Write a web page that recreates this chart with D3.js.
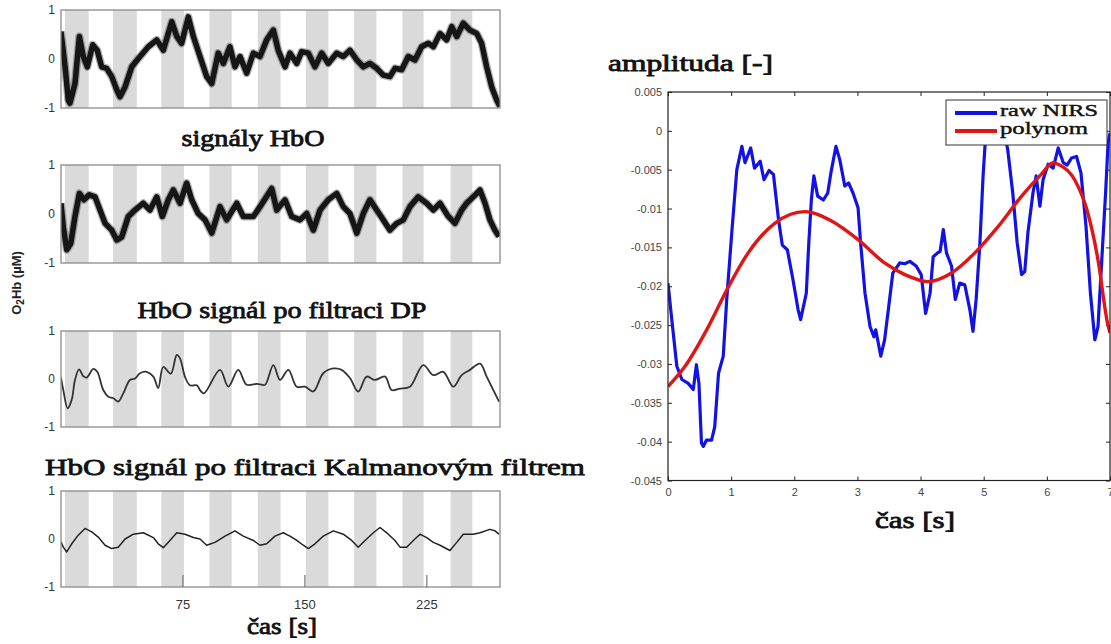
<!DOCTYPE html>
<html>
<head>
<meta charset="utf-8">
<script src="https://cdn.jsdelivr.net/npm/d3@7"></script>
<style>
  body { margin: 0; background: #fff; }
  svg { display: block; }
</style>
</head>
<body>
<svg id="chart" width="1111" height="644"></svg>
<script>
// ---- data ----
// stimulation blocks (s)
const bandStart = [2.4, 32, 61.7, 91.3, 121, 150.6, 180.3, 210, 239.6];
const bandEnd   = [17, 46.6, 75.6, 105, 135, 164.5, 194, 223, 253];
const hboTicks = [1, 0, -1];
const timeTicks = [75, 150, 225];

// [time s, O2Hb uM]
const hboRaw = [[0,0.56],[2.5,-0.16],[4.5,-0.84],[5.5,-0.9],[8.6,-0.5],[11.3,0.46],[13.7,0.05],[16.2,-0.16],[19.5,0.29],[22.3,0.18],[25,-0.16],[28.1,-0.19],[31.2,-0.36],[34.3,-0.63],[36.3,-0.77],[39.4,-0.57],[43.5,-0.16],[48.6,0.05],[53.7,0.25],[58.9,0.39],[62.9,0.18],[68.1,0.76],[71.2,0.46],[74.2,0.32],[78.3,0.86],[81.4,0.46],[85.5,0.05],[89.6,-0.36],[92.7,-0.5],[96.7,0.12],[99.8,-0.09],[103.9,0.25],[107,-0.16],[110.1,0.05],[114.2,-0.29],[118.3,0.12],[122.4,0.05],[126.5,0.39],[130.6,0.59],[133.6,0.18],[137.8,-0.16],[140.8,0.12],[145,-0.09],[148,0.15],[152.1,0.12],[156.2,-0.16],[160.3,0.12],[164.4,-0.09],[169.6,0.12],[173.6,0.05],[177.7,0.18],[181.9,-0.02],[185.9,-0.16],[190,-0.09],[194.2,-0.19],[198.2,-0.33],[202.3,-0.36],[205.4,-0.19],[209.5,-0.22],[213.6,0.05],[217.7,-0.02],[221.8,0.25],[225.9,0.32],[229,0.25],[233.1,0.52],[237.2,0.39],[240.3,0.66],[243.4,0.46],[247.4,0.73],[251.5,0.59],[255.7,0.52],[258.7,0.32],[261.8,-0.16],[264.9,-0.57],[268,-0.84],[270,-0.97]];

const hboSig = [[0,0.22],[1.4,-0.26],[3.5,-0.73],[6,-0.6],[8.6,-0.05],[11.3,0.42],[14.1,0.29],[17.4,0.39],[20.9,0.35],[24,0.08],[27.1,-0.19],[31.2,-0.33],[34.3,-0.53],[37.3,-0.47],[41.4,-0.05],[45.5,0.08],[50.6,0.22],[54.7,0.08],[58.9,0.35],[62.3,-0.05],[66,0.29],[69.1,0.49],[73.2,0.22],[77.3,0.63],[80.4,0.29],[84.4,0.01],[88.6,-0.12],[92.7,-0.39],[97.8,0.15],[101.9,-0.12],[108.1,0.22],[112.1,-0.05],[118.3,-0.05],[122.4,0.15],[129.6,0.52],[132.7,0.08],[137.8,0.29],[141.9,-0.05],[147,-0.12],[151.1,0.01],[155.2,-0.33],[159.3,0.08],[164.4,0.29],[169.6,0.42],[173.6,0.15],[177.7,0.01],[181.9,-0.39],[185.9,0.01],[190,0.29],[194.2,0.08],[198.2,-0.12],[202.3,-0.33],[206.5,-0.19],[210.5,-0.12],[214.6,0.15],[219.7,0.35],[224.9,0.22],[229,0.08],[233.1,0.22],[238.2,-0.05],[242.3,-0.19],[246.4,0.08],[249.5,0.22],[253.6,0.35],[257.7,0.49],[260.8,0.22],[263.8,-0.12],[266.9,-0.33],[269.4,-0.46]];

const hboDP = [[0,0.03],[1.4,-0.23],[4.1,-0.61],[6.6,-0.43],[8.6,-0.02],[11.1,0.2],[13.7,0.06],[15.8,0.03],[19.9,0.21],[22.3,0.15],[26,-0.23],[29.1,-0.37],[32.2,-0.4],[35.2,-0.47],[38.3,-0.3],[42.4,-0.02],[45.5,0.01],[48.6,0.12],[52.7,0.15],[56.8,0.05],[59.8,-0.19],[62.9,0.25],[67.5,0.11],[71.2,0.5],[73.2,0.43],[76.3,0.04],[79.3,-0.13],[83.5,-0.13],[85.5,-0.23],[87.9,-0.3],[97.8,0.19],[102.9,-0.16],[109,0.19],[114.2,-0.12],[120.4,-0.1],[122.4,-0.11],[125.5,-0.12],[130.6,0.29],[134.7,-0.02],[139.8,0.19],[145,-0.16],[150.1,-0.16],[155.2,-0.26],[161.3,0.12],[167.5,0.22],[172.6,0.19],[177.7,0.02],[182.8,-0.26],[188,0.05],[193.1,-0.02],[199.3,0.05],[203.4,-0.23],[208.5,-0.2],[214.6,-0.16],[222.8,0.29],[229,0.08],[235.1,0.15],[241.3,-0.16],[246.4,0.08],[251.5,0.19],[257.7,0.32],[261.8,0.05],[265.9,-0.23],[269.4,-0.47]];

const hboKalman = [[0,-0.06],[1.4,-0.17],[3.5,-0.27],[6.6,-0.1],[10.6,0.08],[14.8,0.22],[18.9,0.15],[22.9,0.04],[27.1,-0.13],[31.2,-0.2],[35.2,-0.17],[39.4,0],[44.5,0.1],[50.6,0.13],[56.8,0.03],[59.8,-0.1],[62.9,-0.18],[67,-0.03],[71.2,0.13],[76.3,0.1],[81.4,0.03],[85.5,0],[89.6,-0.13],[94.7,-0.07],[100.9,0.06],[107,0.17],[112.1,0.06],[118.3,-0.03],[122.4,-0.13],[126.5,-0.1],[131.6,0.06],[136.7,0.13],[140.8,0.06],[145,-0.03],[149,-0.13],[152.1,-0.2],[156.2,-0.1],[161.3,0.06],[167.5,0.17],[173.6,0.1],[178.8,-0.03],[182.8,-0.17],[187,-0.03],[192.1,0.13],[196.2,0.24],[201.3,0.1],[205.4,-0.03],[208.5,-0.17],[212.6,-0.17],[216.7,-0.03],[220.8,0.1],[224.9,0.03],[229,-0.07],[233.1,-0.13],[239.2,-0.24],[243.4,-0.07],[247.4,0.1],[253.6,0.1],[257.7,0.13],[263.8,0.2],[266.9,0.17],[269.4,0.1]];

// right chart: raw NIRS vs polynomial fit
const nirsT = [0,0.06,0.14,0.22,0.32,0.4,0.45,0.49,0.53,0.56,0.61,0.69,0.74,0.8,0.875,0.93,1.01,1.09,1.17,1.22,1.31,1.37,1.46,1.52,1.6,1.67,1.75,1.81,1.89,1.98,2.06,2.1,2.19,2.23,2.27,2.31,2.37,2.46,2.53,2.58,2.66,2.72,2.8,2.86,2.93,3.01,3.05,3.12,3.2,3.26,3.29,3.37,3.43,3.49,3.56,3.67,3.75,3.83,3.93,4.01,4.08,4.15,4.2,4.27,4.31,4.36,4.41,4.49,4.55,4.62,4.7,4.78,4.83,4.88,4.94,4.99,5.04,5.12,5.22,5.3,5.38,5.46,5.53,5.6,5.65,5.7,5.78,5.83,5.89,5.94,6.02,6.1,6.18,6.26,6.32,6.39,6.47,6.54,6.62,6.69,6.76,6.81,6.87,6.93,6.97,7.0];
const nirsV = [-0.0196,-0.0243,-0.0303,-0.032,-0.0325,-0.0333,-0.0301,-0.0325,-0.0402,-0.0406,-0.0398,-0.0398,-0.0381,-0.0312,-0.029,-0.0217,-0.0131,-0.005,-0.002,-0.0041,-0.0022,-0.0048,-0.0039,-0.0063,-0.0051,-0.0056,-0.0114,-0.0147,-0.0153,-0.0192,-0.023,-0.0243,-0.0209,-0.0144,-0.0089,-0.0058,-0.0084,-0.0089,-0.008,-0.0054,-0.002,-0.0037,-0.0071,-0.0067,-0.008,-0.0099,-0.0144,-0.0209,-0.0252,-0.0265,-0.0256,-0.029,-0.0269,-0.023,-0.0183,-0.017,-0.0171,-0.0168,-0.0174,-0.0185,-0.0235,-0.0209,-0.0162,-0.0157,-0.0155,-0.0127,-0.0157,-0.0174,-0.0217,-0.0196,-0.0198,-0.023,-0.0258,-0.0217,-0.0144,-0.0058,0.0006,0.0015,0.0015,0.0008,-0.0024,-0.008,-0.0144,-0.0185,-0.0181,-0.0131,-0.008,-0.0058,-0.0097,-0.0063,-0.0043,-0.0048,-0.0022,-0.0041,-0.0044,-0.0035,-0.0033,-0.0054,-0.0123,-0.0209,-0.0269,-0.0252,-0.0166,-0.008,-0.0015,-0.0003];
const polyT = [0,0.27,0.64,0.93,1.27,1.69,2.17,2.59,3.01,3.43,3.75,4.12,4.49,4.86,5.23,5.6,5.91,6.1,6.18,6.44,6.65,6.81,6.96,7.0];
const polyV = [-0.0329,-0.0303,-0.0252,-0.0205,-0.0157,-0.0119,-0.0104,-0.0116,-0.014,-0.017,-0.0185,-0.0194,-0.0183,-0.0157,-0.0123,-0.0084,-0.0056,-0.0041,-0.0043,-0.0063,-0.0106,-0.0166,-0.0247,-0.026];
const ampTicks = [0.005, 0, -0.005, -0.01, -0.015, -0.02, -0.025, -0.03, -0.035, -0.04, -0.045];
const secTicks = [0, 1, 2, 3, 4, 5, 6, 7];
const legendLabels = ["raw NIRS", "polynom"];
const legendColors = ["#1212e6", "#e01616"];

// ---- drawing ----
const svg = d3.select("#chart");
const serif = "'Liberation Serif', 'Times New Roman', serif";
const sans = "'Liberation Sans', Arial, sans-serif";

const xL = d3.scaleLinear().domain([0, 270]).range([61, 500]);

const panels = [
  { top: 10,  bottom: 108, data: hboRaw,    kind: "raw" },
  { top: 165, bottom: 263, data: hboSig,    kind: "raw" },
  { top: 331, bottom: 427, data: hboDP,     kind: "dp" },
  { top: 491, bottom: 587, data: hboKalman, kind: "kal", xTicks: true }
];

panels.forEach((p, i) => {
  const y = d3.scaleLinear().domain([-1, 1]).range([p.bottom, p.top]);
  const g = svg.append("g");

  g.append("defs").append("clipPath").attr("id", "clipL" + i)
    .append("rect")
    .attr("x", xL.range()[0]).attr("y", p.top)
    .attr("width", xL.range()[1] - xL.range()[0]).attr("height", p.bottom - p.top);

  g.selectAll("rect.band")
    .data(d3.zip(bandStart, bandEnd))
    .enter().append("rect")
    .attr("class", "band")
    .attr("x", d => xL(d[0]))
    .attr("y", p.top)
    .attr("width", d => xL(d[1]) - xL(d[0]))
    .attr("height", p.bottom - p.top)
    .attr("fill", "#dadada");

  const line = d3.line()
    .x(d => xL(d[0]))
    .y(d => y(d[1]))
    .curve(p.kind === "dp" ? d3.curveCatmullRom : d3.curveLinear);

  const lg = g.append("g").attr("clip-path", `url(#clipL${i})`);
  if (p.kind === "raw") {
    // noisy raw trace: fuzzy dark band
    lg.append("path").datum(p.data).attr("d", line)
      .attr("fill", "none").attr("stroke", "#000").attr("stroke-opacity", 0.3)
      .attr("stroke-width", 8).attr("stroke-linejoin", "round");
    lg.append("path").datum(p.data).attr("d", line)
      .attr("fill", "none").attr("stroke", "#161616")
      .attr("stroke-width", 5.5).attr("stroke-linejoin", "round");
  } else {
    lg.append("path").datum(p.data).attr("d", line)
      .attr("fill", "none").attr("stroke", p.kind === "dp" ? "#333" : "#222")
      .attr("stroke-width", p.kind === "dp" ? 1.8 : 1.5)
      .attr("stroke-linejoin", "round");
  }

  g.append("rect")
    .attr("x", xL.range()[0]).attr("y", p.top)
    .attr("width", xL.range()[1] - xL.range()[0]).attr("height", p.bottom - p.top)
    .attr("fill", "none").attr("stroke", "#8a8a8a").attr("stroke-width", 1.3);

  g.selectAll("text.yt")
    .data(hboTicks)
    .enter().append("text")
    .attr("class", "yt")
    .attr("x", 55)
    .attr("y", d => y(d) + 4)
    .attr("text-anchor", "end")
    .attr("font-family", sans).attr("font-size", 12).attr("fill", "#333")
    .text(d => d);

  if (p.xTicks) {
    g.selectAll("line.xt")
      .data(timeTicks)
      .enter().append("line")
      .attr("x1", d => xL(d)).attr("x2", d => xL(d))
      .attr("y1", p.bottom).attr("y2", p.bottom - 12)
      .attr("stroke", "#777").attr("stroke-width", 1.2);
    g.selectAll("text.xt")
      .data(timeTicks)
      .enter().append("text")
      .attr("x", d => xL(d))
      .attr("y", p.bottom + 22)
      .attr("text-anchor", "middle")
      .attr("font-family", sans).attr("font-size", 13).attr("fill", "#333")
      .text(d => d);
  }
});

// y label of the left column
const yl = svg.append("text")
  .attr("transform", "translate(21,283) rotate(-90)")
  .attr("text-anchor", "middle")
  .attr("font-family", sans).attr("font-size", 13).attr("font-weight", "bold")
  .attr("fill", "#222");
yl.append("tspan").text("O");
yl.append("tspan").attr("font-size", 10).attr("dy", 3).text("2");
yl.append("tspan").attr("dy", -3).text("Hb (µM)");

// titles (regular serif thickened with a thin stroke)
function title(txt, x, y, size, width, anchor = "middle") {
  svg.append("text")
    .attr("x", x).attr("y", y)
    .attr("text-anchor", anchor)
    .attr("font-family", serif)
    .attr("font-size", size).attr("fill", "#111")
    .attr("stroke", "#111").attr("stroke-width", 0.8)
    .attr("textLength", width).attr("lengthAdjust", "spacingAndGlyphs")
    .text(txt);
}
title("signály HbO", 253, 146, 23, 143);
title("HbO signál po filtraci DP", 282, 318, 24, 289);
title("HbO signál po filtraci Kalmanovým filtrem", 45, 475, 24, 540, "start");
title("čas [s]", 282, 634, 23, 70);
title("amplituda [-]", 608, 71, 23, 165, "start");
title("čas [s]", 915, 528, 23, 80);

// ---- right chart ----
const xR = d3.scaleLinear().domain([0, 7]).range([668, 1110]);
const yR = d3.scaleLinear().domain([-0.045, 0.005]).range([480.5, 92]);
const fmt = d => String(+d.toFixed(3));

svg.append("defs").append("clipPath").attr("id", "clipR")
  .append("rect")
  .attr("x", 668).attr("y", 92)
  .attr("width", xR(7) - xR(0)).attr("height", yR(-0.045) - yR(0.005));

const axStyle = g => {
  g.select(".domain").remove();
  g.selectAll(".tick line").attr("stroke", "#222");
  g.selectAll(".tick text").attr("fill", "#444").attr("font-family", sans).attr("font-size", 11);
};

svg.append("g")
  .attr("transform", `translate(${xR(0)},0)`)
  .call(d3.axisLeft(yR).tickValues(ampTicks).tickFormat(fmt).tickSize(-4).tickPadding(6))
  .call(axStyle);
svg.append("g")
  .attr("transform", `translate(${xR(7)},0)`)
  .call(d3.axisRight(yR).tickValues(ampTicks).tickFormat("").tickSize(-4))
  .call(axStyle);
svg.append("g")
  .attr("transform", `translate(0,${yR(-0.045)})`)
  .call(d3.axisBottom(xR).tickValues(secTicks).tickFormat(d3.format("d")).tickSize(-4).tickPadding(8))
  .call(axStyle);
svg.append("g")
  .attr("transform", `translate(0,${yR(0.005)})`)
  .call(d3.axisTop(xR).tickValues(secTicks).tickFormat("").tickSize(-4))
  .call(axStyle);

const rLine = d3.line().x(d => xR(d[0])).y(d => yR(d[1]));
const gR = svg.append("g").attr("clip-path", "url(#clipR)");
gR.append("path")
  .datum(d3.zip(nirsT, nirsV))
  .attr("d", rLine)
  .attr("fill", "none").attr("stroke", legendColors[0])
  .attr("stroke-width", 3.2).attr("stroke-linejoin", "round");
gR.append("path")
  .datum(d3.zip(polyT, polyV))
  .attr("d", rLine.curve(d3.curveMonotoneX))
  .attr("fill", "none").attr("stroke", legendColors[1])
  .attr("stroke-width", 3.4).attr("stroke-linejoin", "round");

svg.append("rect")
  .attr("x", xR(0)).attr("y", yR(0.005))
  .attr("width", xR(7) - xR(0)).attr("height", yR(-0.045) - yR(0.005))
  .attr("fill", "none").attr("stroke", "#222").attr("stroke-width", 1.2);

// legend
const leg = svg.append("g").attr("transform", "translate(946,100)");
leg.append("rect")
  .attr("width", 161).attr("height", 45)
  .attr("fill", "#fff").attr("stroke", "#333").attr("stroke-width", 1);
const legW = [98, 88];
legendLabels.forEach((lab, i) => {
  const yy = 13 + i * 18;
  leg.append("line")
    .attr("x1", 9).attr("x2", 51).attr("y1", yy).attr("y2", yy)
    .attr("stroke", legendColors[i]).attr("stroke-width", 4);
  leg.append("text")
    .attr("x", 54).attr("y", yy + 3)
    .attr("font-family", serif).attr("font-size", 17).attr("fill", "#111")
    .attr("stroke", "#111").attr("stroke-width", 0.4)
    .attr("textLength", legW[i]).attr("lengthAdjust", "spacingAndGlyphs")
    .text(lab);
});
</script>
</body>
</html>
